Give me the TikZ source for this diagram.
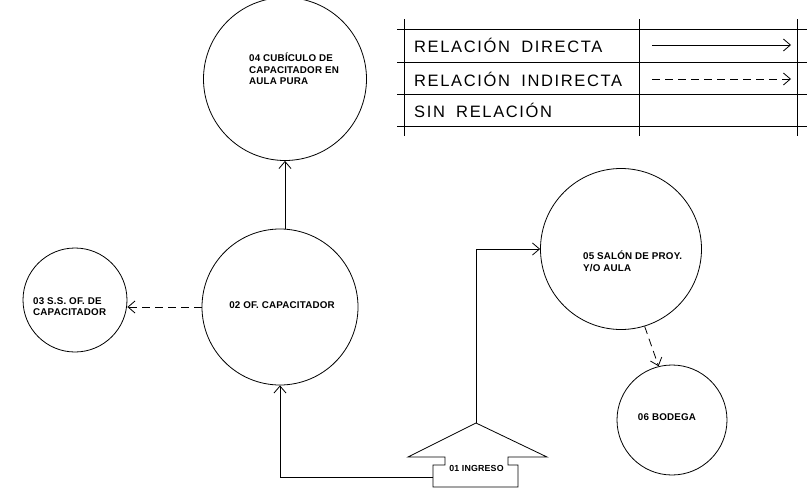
\documentclass[tikz,border=0pt]{standalone}
\usepackage{fontspec}
\setmainfont{Liberation Sans}
\newfontfamily\legfont[LetterSpace=10]{Liberation Sans}
\newfontfamily\cadfont[LetterSpace=2]{Liberation Sans Bold}
\usetikzlibrary{arrows.meta}
\newcommand{\wgap}{\hspace{5pt}}
\begin{document}
\begin{tikzpicture}[x=1pt,y=-1pt,
  ln/.style={line width=0.8pt},
  room/.style={circle,draw,line width=0.8pt,inner sep=0pt},
  rtext/.style={font=\cadfont\fontsize{9.8}{11.2}\selectfont,align=left,inner sep=0pt},
  legtext/.style={font=\legfont\fontsize{16.5}{18}\selectfont,anchor=west,inner sep=0pt},
  arr/.style={ln,-{Straight Barb[length=7pt,width=12pt,line width=0.8pt]}},
  darr/.style={arr,dash pattern=on 8pt off 5pt}]
\useasboundingbox (0,0) rectangle (807,490);
% legend
\foreach \yy in {29,62,94,126} \draw[ln] (397,\yy) -- (807,\yy);
\foreach \xx in {404,639,797} \draw[ln] (\xx,19) -- (\xx,136);
\node[legtext] (l1) at (414,45.5) {RELACIÓN\wgap{} DIRECTA};
\node[legtext] (l2) at (414,79) {RELACIÓN\wgap{} INDIRECTA};
\node[legtext] (l3) at (414,110.5) {SIN\wgap{} RELACIÓN};
\coordinate (la1) at (652,45);
\coordinate (lb1) at (791,45);
\coordinate (la2) at (652,79);
\coordinate (lb2) at (791,79);
\draw[arr] (la1) -- (lb1);
\draw[darr] (la2) -- (lb2);
% rooms
\node[room,minimum size=163pt] (c4) at (285,79) {};
\node[room,minimum size=156pt] (c2) at (280,307) {};
\node[room,minimum size=104pt] (c3) at (75,300) {};
\node[room,minimum size=161pt] (c5) at (621,249) {};
\node[room,minimum size=110pt] (c6) at (672,420) {};
\node[rtext,anchor=north west] (t4) at (249,53) {04 CUBÍCULO DE\\CAPACITADOR EN\\AULA PURA};
\node[rtext] (t2) at (282,305) {02 OF. CAPACITADOR};
\node[rtext,anchor=north west] (t3) at (33,297) {03 S.S. OF. DE\\CAPACITADOR};
\node[rtext,anchor=north west] (t5) at (583,251) {05 SALÓN DE PROY.\\Y/O AULA};
\node[rtext] (t6) at (667,417) {06 BODEGA};
% ingreso
\coordinate (apex) at (476,423);
\coordinate (ingl) at (433,477);
\draw[ln] (apex) -- (547,457) -- (508,457) -- (508,465) -- (518,465) -- (518,487)
  -- (433,487) -- (433,465) -- (445,465) -- (445,457) -- (408,457) -- cycle;
\node[rtext,font=\cadfont\fontsize{8.8}{10}\selectfont] (t1) at (476.5,468.5) {01 INGRESO};
% connectors
\draw[arr] (c4.south |- c2.north) -- (c4.south);
\draw[darr] (c2.west) -- (c2.west -| c3.east);
\draw[arr] (ingl) -| (c2.south);
\draw[arr] (apex) |- (c5.west);
\draw[darr] (c5.-73) -- (c6.104);
\end{tikzpicture}
\end{document}
